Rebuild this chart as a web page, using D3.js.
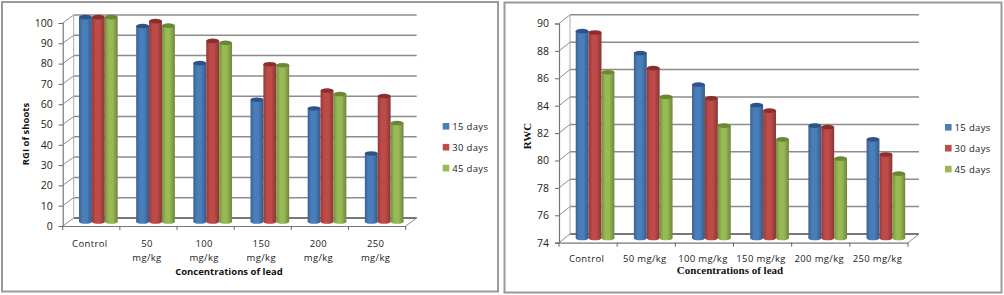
<!DOCTYPE html>
<html>
<head>
<meta charset="utf-8">
<script src="https://cdn.jsdelivr.net/npm/d3@7"></script>
<style>
  html, body { margin: 0; padding: 0; background: #fff; }
  svg { display: block; }
</style>
</head>
<body>
<svg id="chart" width="1004" height="295"></svg>
<script>
const seriesNames = ['15 days', '30 days', '45 days'];
const seriesColors = ['#4a7ebb', '#be4b48', '#98b954'];
const seriesDark = ['#2c5488', '#8a2f2c', '#6a8733'];

const categories = ['Control', '50 mg/kg', '100 mg/kg', '150 mg/kg', '200 mg/kg', '250 mg/kg'];

const rgi15 = [100.7, 96.3, 78, 60, 55.7, 33.5];
const rgi30 = [100.7, 98.7, 89, 77.5, 64.5, 61.8];
const rgi45 = [100.7, 96.5, 88, 77, 62.8, 48.5];

const rwc15 = [89.1, 87.5, 85.2, 83.7, 82.2, 81.2];
const rwc30 = [89.0, 86.4, 84.2, 83.3, 82.1, 80.1];
const rwc45 = [86.1, 84.3, 82.2, 81.2, 79.8, 78.7];

const rgiTicks = d3.range(0, 101, 10);
const rwcTicks = d3.range(74, 91, 2);

const svg = d3.select('#chart');

// cylinder shading, one gradient per series
const defs = svg.append('defs');
seriesColors.forEach((c, i) => {
  const g = defs.append('linearGradient').attr('id', 'cyl' + i);
  g.append('stop').attr('offset', '0%').attr('stop-color', d3.color(c).darker(0.7));
  g.append('stop').attr('offset', '30%').attr('stop-color', c);
  g.append('stop').attr('offset', '60%').attr('stop-color', c);
  g.append('stop').attr('offset', '100%').attr('stop-color', d3.color(c).darker(0.9));
});

function drawChart(o) {
  const g = svg.append('g');

  g.append('rect')
    .attr('x', o.panel[0]).attr('y', o.panel[1])
    .attr('width', o.panel[2]).attr('height', o.panel[3])
    .attr('fill', '#fff').attr('stroke', '#9a9a9a').attr('stroke-width', 2);

  const y = d3.scaleLinear().domain(o.domain).range([o.y0, o.y1]);
  const x = d3.scaleBand().domain(categories).range([o.x0, o.x1]);
  const dx = o.depthX, dy = o.depthY;

  // back wall gridlines and side wall diagonals
  o.ticks.forEach(t => {
    g.append('line')
      .attr('x1', o.x0 + dx).attr('x2', o.x1 + dx)
      .attr('y1', y(t) - dy).attr('y2', y(t) - dy)
      .attr('stroke', t === o.domain[0] ? '#777' : '#8c8c8c')
      .attr('stroke-width', t === o.domain[0] ? 2 : 1.5);
    g.append('line')
      .attr('x1', o.x0).attr('x2', o.x0 + dx)
      .attr('y1', y(t)).attr('y2', y(t) - dy)
      .attr('stroke', '#8c8c8c');
  });
  g.append('line')
    .attr('x1', o.x0 + dx).attr('x2', o.x0 + dx)
    .attr('y1', y(o.domain[0]) - dy).attr('y2', y(o.domain[1]) - dy)
    .attr('stroke', '#aaa');
  g.append('line')
    .attr('x1', o.x1).attr('x2', o.x1 + dx)
    .attr('y1', o.y0).attr('y2', o.y0 - dy)
    .attr('stroke', '#8c8c8c');

  // bars
  const barW = 12.9, ry = 2.3;
  o.series.forEach((vals, s) => {
    const sg = g.append('g');
    const left = (d, i) => x(categories[i]) + o.barOffset + s * barW;
    sg.selectAll('rect').data(vals).enter().append('rect')
      .attr('x', left)
      .attr('y', d => y(d) - o.lift)
      .attr('width', barW)
      .attr('height', d => y(o.domain[0]) - y(d))
      .attr('fill', `url(#cyl${s})`);
    sg.selectAll('ellipse.bot').data(vals).enter().append('ellipse')
      .attr('class', 'bot')
      .attr('cx', (d, i) => left(d, i) + barW / 2)
      .attr('cy', y(o.domain[0]) - o.lift)
      .attr('rx', barW / 2).attr('ry', ry)
      .attr('fill', `url(#cyl${s})`);
    sg.selectAll('ellipse.top').data(vals).enter().append('ellipse')
      .attr('class', 'top')
      .attr('cx', (d, i) => left(d, i) + barW / 2)
      .attr('cy', d => y(d) - o.lift)
      .attr('rx', barW / 2).attr('ry', ry)
      .attr('fill', seriesDark[s]);
  });

  // axes
  const yAxis = g.append('g')
    .attr('transform', `translate(${o.x0},0)`)
    .call(d3.axisLeft(y).tickValues(o.ticks).tickSize(4).tickPadding(6));
  yAxis.selectAll('text')
    .attr('font-family', 'Open Sans').attr('font-size', 10.5).attr('fill', '#222');

  const xAxis = g.append('g')
    .attr('transform', `translate(0,${o.y0})`)
    .call(d3.axisBottom(x).tickSize(0).tickPadding(o.labelPad).tickFormat(() => ''));
  xAxis.selectAll('.tick text').each(function (d) {
    const parts = o.wrapLabels && d !== 'Control' ? d.split(' ') : [d];
    const t = d3.select(this)
      .attr('font-family', 'Open Sans').attr('font-size', 9.5)
      .attr('letter-spacing', 0.35).attr('fill', '#222')
      .attr('dx', -1.5);
    parts.forEach((p, i) => {
      t.append('tspan').attr('x', 0).attr('dx', -1.5)
        .attr('dy', i === 0 ? '0.71em' : 14).text(p);
    });
  });
  [...categories.map(c => x(c)), o.x1].forEach(px => {
    xAxis.append('line')
      .attr('x1', px).attr('x2', px).attr('y1', 0).attr('y2', 4)
      .attr('stroke', '#666');
  });
  g.selectAll('.domain').attr('stroke', '#777').attr('stroke-width', 1.2);
  g.selectAll('.tick line').attr('stroke', '#666');

  // titles
  g.append('text')
    .attr('x', o.xTitle[0]).attr('y', o.xTitle[1])
    .attr('text-anchor', 'middle')
    .attr('font-family', o.titleFont).attr('font-size', o.titleSize)
    .attr('font-weight', 'bold').attr('fill', '#111')
    .text('Concentrations of lead');
  g.append('text')
    .attr('transform', `translate(${o.yTitle[0]},${o.yTitle[1]}) rotate(-90)`)
    .attr('text-anchor', 'middle')
    .attr('font-family', o.titleFont).attr('font-size', o.titleSize)
    .attr('font-weight', 'bold').attr('fill', '#111')
    .text(o.yLabel);

  // legend
  const legend = g.selectAll('g.legend').data(seriesNames).enter().append('g')
    .attr('transform', (d, i) => `translate(${o.legend[0]},${o.legend[1] + i * 20.9})`);
  legend.append('rect')
    .attr('x', 0).attr('y', -3.3).attr('width', 6.6).attr('height', 6.6)
    .attr('fill', (d, i) => seriesColors[i]);
  legend.append('text')
    .attr('x', 9.5).attr('y', 3.4)
    .attr('font-family', 'Open Sans').attr('font-size', 9.5)
    .attr('letter-spacing', 0.35).attr('fill', '#222')
    .text(d => d);
}

drawChart({
  panel: [2, 2, 496, 289.5],
  domain: [0, 100], ticks: rgiTicks,
  x0: 62.7, x1: 405.7, y0: 226, y1: 23,
  depthX: 11, depthY: 8, lift: 4.5, barOffset: 16.3,
  series: [rgi15, rgi30, rgi45],
  wrapLabels: true, labelPad: 14,
  titleFont: 'Open Sans', titleSize: 9.5,
  xTitle: [229, 275], yTitle: [29, 134], yLabel: 'RGI of shoots',
  legend: [442.7, 126.3]
});

drawChart({
  panel: [504.5, 2.5, 497, 290],
  domain: [74, 90], ticks: rwcTicks,
  x0: 559, x1: 908, y0: 242.7, y1: 23.5,
  depthX: 11, depthY: 8.7, lift: 4.7, barOffset: 16.7,
  series: [rwc15, rwc30, rwc45],
  wrapLabels: false, labelPad: 13,
  titleFont: 'Liberation Serif', titleSize: 11,
  xTitle: [730, 274], yTitle: [531, 136], yLabel: 'RWC',
  legend: [945, 127.3]
});
</script>
</body>
</html>
